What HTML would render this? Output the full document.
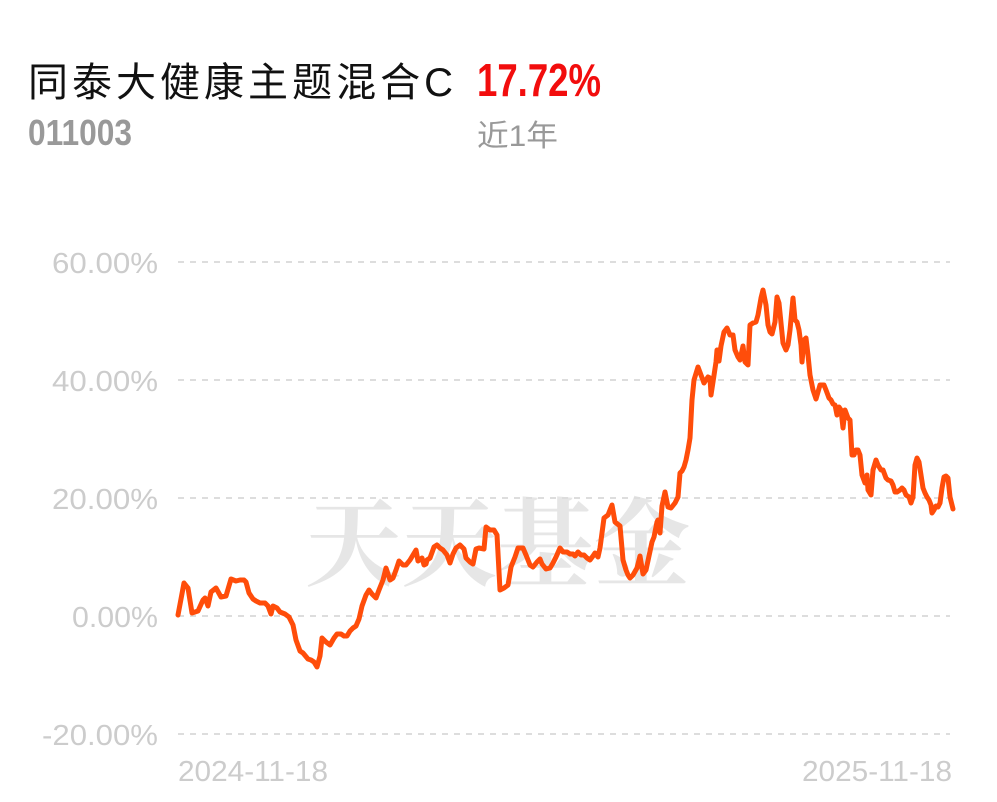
<!DOCTYPE html>
<html><head><meta charset="utf-8"><style>html,body{margin:0;padding:0;background:#fff;}svg{display:block}</style></head>
<body>
<svg width="997" height="802" viewBox="0 0 997 802" xmlns="http://www.w3.org/2000/svg">
<rect width="997" height="802" fill="#fff"/>
<text x="28" y="96" font-family="'Liberation Sans','Noto Sans CJK SC',sans-serif" font-size="40" fill="#111" textLength="425" lengthAdjust="spacing">同泰大健康主题混合C</text>
<text x="477" y="96" font-family="'Liberation Sans',sans-serif" font-weight="bold" font-size="46" fill="#f20d0d" textLength="124" lengthAdjust="spacingAndGlyphs">17.72%</text>
<text x="28" y="145" font-family="'Liberation Sans',sans-serif" font-weight="bold" font-size="36" fill="#999" textLength="104" lengthAdjust="spacingAndGlyphs">011003</text>
<text x="477" y="146" font-family="'Liberation Sans','Noto Sans CJK SC',sans-serif" font-size="30" fill="#999" textLength="81" lengthAdjust="spacingAndGlyphs">近1年</text>
<text x="305" y="578" font-family="'Noto Serif CJK SC',serif" font-weight="bold" font-size="96" fill="#e6e6e6" textLength="385" lengthAdjust="spacingAndGlyphs">天天基金</text>
<g stroke="#ddd" stroke-width="2" stroke-dasharray="6,6">
<line x1="178" y1="262" x2="950" y2="262"/><line x1="178" y1="380" x2="950" y2="380"/><line x1="178" y1="498" x2="950" y2="498"/><line x1="178" y1="616" x2="950" y2="616"/><line x1="178" y1="734" x2="950" y2="734"/>
</g>
<g font-family="'Liberation Sans',sans-serif" font-size="29" fill="#ccc">
<text x="52" y="273" textLength="106" lengthAdjust="spacingAndGlyphs">60.00%</text>
<text x="52" y="391" textLength="106" lengthAdjust="spacingAndGlyphs">40.00%</text>
<text x="52" y="509" textLength="106" lengthAdjust="spacingAndGlyphs">20.00%</text>
<text x="72" y="627" textLength="86" lengthAdjust="spacingAndGlyphs">0.00%</text>
<text x="42" y="745" textLength="116" lengthAdjust="spacingAndGlyphs">-20.00%</text>
</g>
<g font-family="'Liberation Sans',sans-serif" font-size="29" fill="#ccc">
<text x="178" y="781" textLength="150" lengthAdjust="spacingAndGlyphs">2024-11-18</text>
<text x="802" y="781" textLength="150" lengthAdjust="spacingAndGlyphs">2025-11-18</text>
</g>
<polyline fill="none" stroke="#ff4d0a" stroke-width="5" stroke-linejoin="round" stroke-linecap="round" points="178,615 184,583 188,588 192,613 198,611 203,600 205,598 208,606 211,592 216,588 221,597 226,596 231,579 236,581 240,580 244,580 246,582 249,593 253,599 256,601 260,603 265,603 268,606 271,614 273,606 277,608 280,612 285,614 289,617 293,625 296,640 300,651 303,653 308,659 311,660 314,662 317,667 320,656 322,638 326,642 330,645 334,638 337,634 341,634 344,636 347,636 350,631 353,628 356,626 359,619 362,606 366,595 369,590 372,594 376,598 379,590 383,580 386,568 390,580 393,578 396,570 399,561 403,565 406,565 410,560 413,555 416,550 418,561 422,558 424,565 426,564 427,560 430,558 434,547 437,545 440,548 443,550 447,555 450,563 453,554 456,548 460,545 464,549 466,558 470,562 473,564 476,549 479,548 484,549 486,527 490,530 494,530 497,535 500,590 504,588 508,585 511,567 515,557 518,548 520,548 523,548 526,555 530,565 533,567 537,562 540,559 542,564 546,569 550,568 553,563 556,557 560,548 563,552 567,552 570,554 573,554 575,556 578,552 581,555 584,555 587,558 590,560 593,556 595,553 598,557 600,548 604,518 608,515 612,505 615,522 620,526 623,560 626,570 628,575 630,578 633,575 637,568 640,556 643,574 646,570 652,542 654,537 657,522 658,520 660,533 662,506 665,492 668,507 671,508 675,503 678,497 680,473 682,471 684,467 686,460 688,450 690,438 692,400 694,380 698,367 701,375 704,383 708,377 710,378 711,395 713,382 716,362 717,350 719,361 721,346 724,332 727,328 730,335 733,335 735,350 738,357 740,360 743,346 745,362 748,365 750,325 753,323 756,322 758,315 761,298 763,290 766,305 768,325 770,332 772,334 775,322 777,297 779,303 781,323 783,343 786,350 788,345 790,330 793,298 795,320 797,322 799,330 801,345 802,362 804,340 806,338 808,355 810,375 813,390 816,399 818,392 820,385 824,385 826,390 829,398 831,400 833,404 835,405 837,415 839,407 841,410 843,428 845,410 848,418 850,420 852,455 854,455 856,450 858,450 860,455 862,475 865,483 867,475 868,490 871,495 873,470 876,460 878,465 881,470 883,470 886,478 888,480 891,481 893,485 895,492 897,492 900,490 902,488 904,490 906,495 909,497 911,503 913,497 915,465 917,458 919,462 921,475 923,488 925,493 927,497 929,500 931,505 932,513 934,510 936,506 938,507 940,503 942,488 944,477 946,476 948,478 950,497 953,509"/>
</svg>
</body></html>
